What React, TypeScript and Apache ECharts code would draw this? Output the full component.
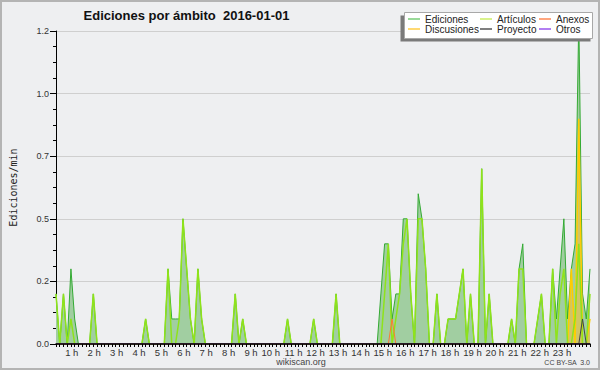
import React, { useEffect, useRef } from 'react';
import * as echarts from 'echarts';

// 10-minute slots, 00:00 .. 23:50 (144 values), unit: edits per minute
const ediciones = [
  0.2, 0, 0.2, 0, 0.3, 0.1, 0, 0, 0, 0, 0.2, 0,
  0, 0, 0, 0, 0, 0, 0, 0, 0, 0, 0, 0,
  0.1, 0, 0, 0, 0, 0, 0.3, 0.1, 0.1, 0.1, 0.5, 0.3,
  0.1, 0, 0.3, 0.1, 0, 0, 0, 0, 0, 0, 0, 0,
  0.2, 0, 0.1, 0, 0, 0, 0, 0, 0, 0, 0, 0,
  0, 0, 0.1, 0, 0, 0, 0, 0, 0, 0.1, 0, 0,
  0, 0, 0, 0.2, 0, 0, 0, 0, 0, 0, 0, 0,
  0, 0, 0, 0.2, 0.4, 0.4, 0.1, 0.2, 0.2, 0.5, 0.5, 0.2,
  0, 0.6, 0.5, 0.3, 0, 0, 0.2, 0, 0, 0.1, 0.1, 0.1,
  0.2, 0.3, 0, 0.2, 0, 0, 0.7, 0, 0.2, 0, 0, 0,
  0, 0, 0.1, 0, 0.3, 0.4, 0, 0, 0, 0.1, 0.2, 0,
  0, 0.3, 0.1, 0.3, 0.5, 0.1, 0.3, 0.4, 1.3, 0.2, 0.1, 0.3,
];
const articulos = [
  0.2, 0, 0.2, 0, 0.1, 0, 0, 0, 0, 0, 0.2, 0,
  0, 0, 0, 0, 0, 0, 0, 0, 0, 0, 0, 0,
  0.1, 0, 0, 0, 0, 0, 0.3, 0, 0, 0.1, 0.5, 0.3,
  0.1, 0, 0.3, 0.1, 0, 0, 0, 0, 0, 0, 0, 0,
  0.2, 0, 0.1, 0, 0, 0, 0, 0, 0, 0, 0, 0,
  0, 0, 0.1, 0, 0, 0, 0, 0, 0, 0.1, 0, 0,
  0, 0, 0, 0.2, 0, 0, 0, 0, 0, 0, 0, 0,
  0, 0, 0, 0, 0.2, 0.4, 0, 0.1, 0.2, 0.4, 0.5, 0.2,
  0, 0.5, 0.5, 0.3, 0, 0, 0.2, 0, 0, 0.1, 0.1, 0.1,
  0.2, 0.3, 0, 0.2, 0, 0, 0.7, 0, 0.2, 0, 0, 0,
  0, 0, 0.1, 0, 0.3, 0.3, 0, 0, 0, 0.1, 0.2, 0,
  0, 0.3, 0, 0.2, 0.3, 0, 0, 0.1, 0.4, 0, 0, 0.2,
];
const anexosPeaks: [number, number][] = [[90, 0.1]];
const discusionesPeaks: [number, number][] = [[138, 0.3], [140, 0.9], [143, 0.1]];
const proyectoPeaks: [number, number][] = [[141, 0.1]];
const otrosPeaks: [number, number][] = [];

const hourLabels = [
  '1 h', '2 h', '3 h', '4 h', '5 h', '6 h', '7 h', '8 h', '9 h', '10 h', '11 h', '12 h',
  '13 h', '14 h', '15 h', '16 h', '17 h', '18 h', '19 h', '20 h', '21 h', '22 h', '23 h',
];
const yLabels = ['0.0', '0.2', '0.5', '0.7', '1.0', '1.2'];

const SLOTS = 144;
const sparse = (peaks: [number, number][]) => {
  const arr: number[] = new Array(SLOTS).fill(0);
  peaks.forEach(([i, v]) => { arr[i] = v; });
  return arr;
};
const anexos = sparse(anexosPeaks);
const discusiones = sparse(discusionesPeaks);
const proyecto = sparse(proyectoPeaks);
const otros = sparse(otrosPeaks);

const FONT = '"Liberation Sans", Arial, sans-serif';
const toPairs = (a: number[]) => a.map((v, i) => [i, v]);

const lineSeries = (name: string, data: number[], color: string, width: number, extra: any = {}) => ({
  name,
  type: 'line',
  data: toPairs(data),
  showSymbol: false,
  symbol: 'none',
  smooth: false,
  itemStyle: { color },
  lineStyle: { color, width },
  ...extra,
});

const legendCommon = {
  orient: 'vertical',
  top: 14,
  icon: 'rect',
  itemWidth: 12,
  itemHeight: 1.5,
  itemGap: 0,
  padding: 0,
  selectedMode: false,
  textStyle: { fontSize: 10, lineHeight: 10, color: '#222', fontFamily: FONT },
};

const option: any = {
  animation: false,
  backgroundColor: '#eeeff1',
  grid: { left: 47, right: 10, top: 31, bottom: 26, show: false },
  xAxis: {
    type: 'value',
    min: 0,
    max: 143,
    interval: 6,
    z: 10,
    axisLine: { show: true, onZero: false, lineStyle: { color: '#000', width: 1.5 } },
    axisTick: { show: true, length: 3, lineStyle: { color: '#000' } },
    minorTick: { show: true, splitNumber: 6, length: 3, lineStyle: { color: '#000' } },
    splitLine: { show: false },
    axisLabel: {
      fontSize: 9.5,
      color: '#333',
      fontFamily: FONT,
      align: 'right',
      margin: 3,
      formatter: (v: number) => {
        const h = Math.round(v / 6);
        if (Math.abs(v - h * 6) > 1e-6 || h < 1 || h > 23) return '';
        return hourLabels[h - 1];
      },
    },
  },
  yAxis: {
    type: 'value',
    min: 0,
    max: 1.25,
    interval: 0.25,
    name: 'Ediciones/min',
    nameLocation: 'middle',
    nameRotate: 90,
    nameGap: 38,
    nameTextStyle: { fontFamily: '"DejaVu Sans Mono", monospace', fontSize: 10, color: '#222' },
    axisLine: { show: true, lineStyle: { color: '#000', width: 1 } },
    axisTick: { show: true, length: 6, lineStyle: { color: '#000' } },
    minorTick: { show: true, splitNumber: 4, length: 3, lineStyle: { color: '#000' } },
    splitLine: { show: true, lineStyle: { color: '#cfcfcf', width: 1 } },
    axisLabel: {
      fontSize: 9,
      color: '#333',
      fontFamily: FONT,
      margin: 7,
      formatter: (v: number) => yLabels[Math.round(v / 0.25)] ?? '',
    },
  },
  legend: [
    { ...legendCommon, left: 408, data: [
      { name: 'Ediciones', itemStyle: { color: '#77cc77' } },
      { name: 'Discusiones', itemStyle: { color: '#ffcc44' } },
    ] },
    { ...legendCommon, left: 480, data: [
      { name: 'Artículos', itemStyle: { color: '#ccee66' } },
      { name: 'Proyecto', itemStyle: { color: '#555555' } },
    ] },
    { ...legendCommon, left: 539, data: [
      { name: 'Anexos', itemStyle: { color: '#ff8855' } },
      { name: 'Otros', itemStyle: { color: '#9955ee' } },
    ] },
  ],
  series: [
    lineSeries('Ediciones', ediciones, '#33aa33', 1, { areaStyle: { color: '#a1cea1', opacity: 1 }, z: 2 }),
    lineSeries('Discusiones', discusiones, '#ffcc00', 1.5, { areaStyle: { color: '#f0c040', opacity: 0.6 }, z: 3 }),
    lineSeries('Artículos', articulos, '#8fe31a', 1.5, { z: 3 }),
    lineSeries('Anexos', anexos, '#ff7733', 1, { z: 3 }),
    lineSeries('Proyecto', proyecto, '#444444', 1, { z: 3 }),
    lineSeries('Otros', otros, '#9944ee', 1, { z: 3 }),
  ],
  graphic: [
    { type: 'rect', z: 20, shape: { x: 1, y: 1, width: 598, height: 368 }, style: { fill: 'none', stroke: '#b4b4b4', lineWidth: 2 } },
    { type: 'rect', z: 3, shape: { x: 400.5, y: 15.5, width: 190, height: 26 }, style: { fill: '#7a7a7a' } },
    { type: 'rect', z: 3, shape: { x: 404.5, y: 12.5, width: 188, height: 26 }, style: { fill: '#ffffff', stroke: '#a8a8a8', lineWidth: 1 } },
    { type: 'text', z: 5, x: 186.5, y: 15, style: { text: 'Ediciones por ámbito  2016-01-01', font: `bold 13px ${FONT}`, fill: '#111', textAlign: 'center', textVerticalAlign: 'middle' } },
    { type: 'text', z: 5, x: 301, y: 362, style: { text: 'wikiscan.org', font: `9px ${FONT}`, fill: '#444', textAlign: 'center', textVerticalAlign: 'middle' } },
    { type: 'text', z: 5, x: 590, y: 362, style: { text: 'CC BY-SA  3.0', font: `7px ${FONT}`, fill: '#444', textAlign: 'right', textVerticalAlign: 'middle' } },
  ],
};

export default function App() {
  const ref = useRef<HTMLDivElement>(null);
  useEffect(() => {
    const chart = echarts.init(ref.current as HTMLDivElement, undefined, { renderer: 'svg' });
    chart.setOption(option);
    return () => chart.dispose();
  }, []);
  return (
    <div
      ref={ref}
      style={{ position: 'absolute', left: 0, top: 0, width: 600, height: 370, background: '#eeeff1' }}
    />
  );
}
